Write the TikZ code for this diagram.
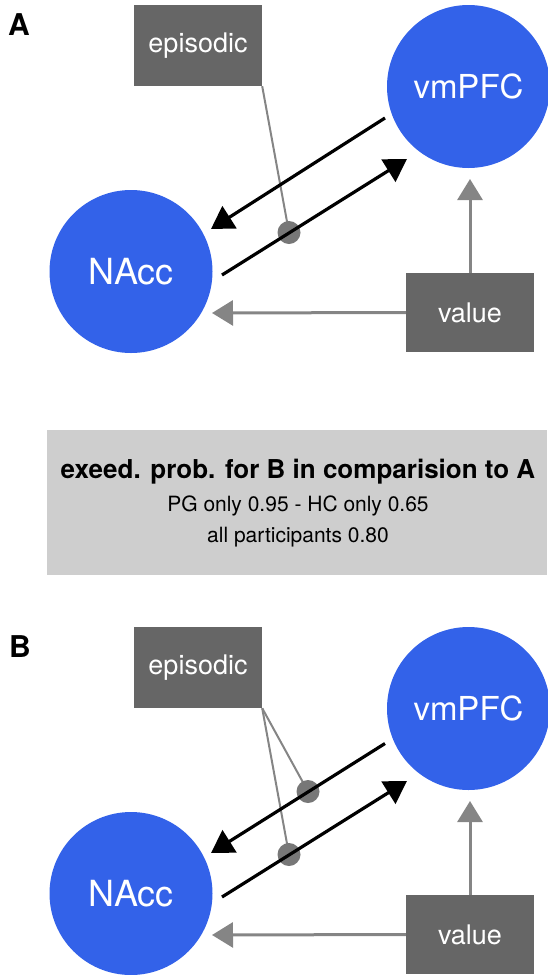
\documentclass[tikz,border=0pt]{standalone}
\usepackage{fontspec}
\setmainfont{TeX Gyre Heros}
\usetikzlibrary{arrows.meta,calc}
\definecolor{nodeblue}{RGB}{51,98,233}
\definecolor{boxgray}{HTML}{666666}
\definecolor{arrowgray}{HTML}{858585}
\definecolor{dotgray}{HTML}{777777}
\definecolor{panelgray}{HTML}{CECECE}
\begin{document}
\begin{tikzpicture}[x=1pt,y=-1pt,
  region/.style={circle,fill=nodeblue,minimum size=163pt,inner sep=0pt,text=white,font=\fontsize{33}{33}\selectfont},
  inputbox/.style={rectangle,fill=boxgray,minimum width=128pt,minimum height=81pt,inner sep=0pt,text=white,font=\fontsize{27}{27}\selectfont},
  conn/.style={line width=3.2pt,black,-{Triangle[length=22pt,width=26pt]}},
  modin/.style={line width=3pt,arrowgray,-{Triangle[length=21pt,width=25pt]}},
  modline/.style={line width=2pt,arrowgray},
  moddot/.style={circle,fill=dotgray,minimum size=23pt,inner sep=0pt},
  panellabel/.style={font=\bfseries\fontsize{30}{30}\selectfont}]
\useasboundingbox (0,0) rectangle (547,975);

% ---------- Panel A ----------
\node[panellabel] (labA) at (19,25) {A};
\node[inputbox] (epiA) at (198,45.5) {episodic};
\node[region] (vmA) at (468.5,86.5) {vmPFC};
\node[region,font=\fontsize{36}{36}\selectfont] (naA) at (131,271.5) {NAcc};
\node[inputbox,minimum height=79pt] (valA) at (470,312.5) {value};
\coordinate (dotAc) at (289,232.5);
\draw[modline] (epiA.south east) -- (dotAc);
\node[moddot] (dotA) at (dotAc) {};
\draw[conn] ($(vmA)+(-83.5,31.5)$) -- ($(naA)+(80,-42.5)$);
\draw[conn] ($(naA)+(91,3.5)$) -- ($(vmA)+(-61.5,72.5)$);
\draw[modin] (valA.west) -- ($(naA)+(81,41.5)$);
\draw[modin] (valA.north) -- ($(vmA)+(1.5,92.5)$);

% ---------- comparison box ----------
\node[fill=panelgray,minimum width=500pt,minimum height=145pt,inner sep=0pt] (probbox) at (297,502.5) {};
\node[anchor=base,font=\bfseries\fontsize{26}{26}\selectfont] (probtitle) at (298,478) {exeed. prob. for B in comparision to A};
\node[anchor=base,font=\fontsize{21}{21}\selectfont] (probpg) at (298,511) {PG only 0.95 - HC only 0.65};
\node[anchor=base,font=\fontsize{21}{21}\selectfont] (proball) at (298,542) {all participants 0.80};

% ---------- Panel B ----------
\node[panellabel] (labB) at (20,647) {B};
\node[inputbox] (epiB) at (198,667.5) {episodic};
\node[region] (vmB) at (468.5,708.5) {vmPFC};
\node[region,font=\fontsize{36}{36}\selectfont] (naB) at (131,893.5) {NAcc};
\node[inputbox,minimum height=79pt] (valB) at (470,934.5) {value};
\coordinate (dotBa) at (308,791.5);
\coordinate (dotBb) at (289,854.5);
\draw[modline] (epiB.south east) -- (dotBa);
\draw[modline] (epiB.south east) -- (dotBb);
\node[moddot] (dotB1) at (dotBa) {};
\node[moddot] (dotB2) at (dotBb) {};
\draw[conn] ($(vmB)+(-83.5,35)$) -- ($(naB)+(80,-40.5)$);
\draw[conn] ($(naB)+(91,3.5)$) -- ($(vmB)+(-61.5,72.5)$);
\draw[modin] (valB.west) -- ($(naB)+(81,41.5)$);
\draw[modin] (valB.north) -- ($(vmB)+(1.5,92.5)$);
\end{tikzpicture}
\end{document}
